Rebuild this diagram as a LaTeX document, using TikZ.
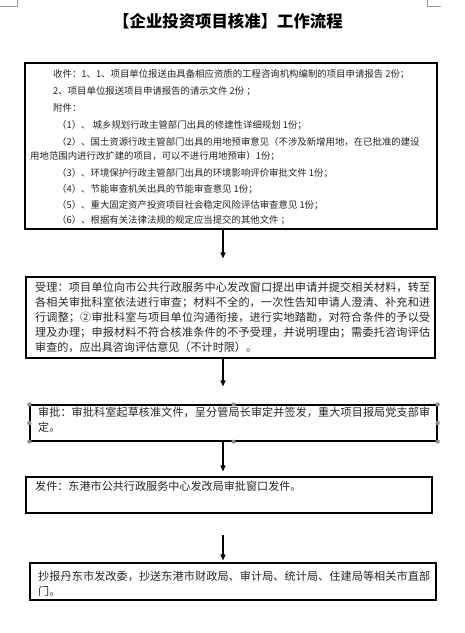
\documentclass[tikz,border=0pt]{standalone}
\usepackage{fontspec}
\setmainfont{Noto Sans CJK SC}
\usetikzlibrary{arrows.meta,calc}
\XeTeXlinebreaklocale "zh"
\XeTeXlinebreakskip=0pt plus 1pt
\begin{document}
\begin{tikzpicture}[x=1pt,y=-1pt,
  frame/.style={draw=black,line width=1.1pt,rectangle,inner sep=0pt},
  small/.style={inner sep=0pt,anchor=west,text=black!85,font=\fontsize{9.4pt}{12pt}\selectfont},
  para/.style={inner sep=0pt,anchor=north west,align=justify,text=black!85,font=\fontsize{11.1pt}{15pt}\selectfont},
  arr/.style={line width=1.2pt,-{Triangle[length=6pt,width=5pt]}},
  handle/.style={fill=black!45,rounded corners=0.8pt}]
\useasboundingbox (0,0) rectangle (465,633);
\fill[white] (0,0) rectangle (465,633);
% corner marks
\draw[black!40,line width=0.8pt] (0,6) -- (17,6) -- (17,0);
\draw[black!40,line width=0.8pt] (427,0) -- (427,6) -- (441,6);
% title
\node[inner sep=0pt,font=\fontsize{16.4pt}{18pt}\selectfont\bfseries] (title) at (228,21) {【企业投资项目核准】工作流程};
% boxes
\node[frame,minimum width=412pt,minimum height=166pt] (b1) at (231,146) {};
\node[frame,minimum width=409pt,minimum height=81pt] (b2) at (230.5,317.5) {};
\node[frame,minimum width=407pt,minimum height=36pt] (b3) at (233.5,423) {};
\node[frame,minimum width=406pt,minimum height=36pt] (b4) at (229,495) {};
\node[frame,minimum width=406pt,minimum height=37pt] (b5) at (233,581.5) {};
% box 1 text
\node[small] (t1) at (53,74) {收件：1、1、项目单位报送由具备相应资质的工程咨询机构编制的项目申请报告 2份；};
\node[small] (t2) at (53,91) {2、项目单位报送项目申请报告的请示文件 2份 ；};
\node[small] (t3) at (53,108) {附件：};
\node[small] (t4) at (57,125) {（1）、 城乡规划行政主管部门出具的修建性详细规划 1份；};
\node[small] (t5) at (57,142) {（2）、国土资源行政主管部门出具的用地预审意见（不涉及新增用地，在已批准的建设};
\node[small] (t6) at (30,156) {用地范围内进行改扩建的项目，可以不进行用地预审）1份；};
\node[small] (t7) at (57,173) {（3）、环境保护行政主管部门出具的环境影响评价审批文件 1份；};
\node[small] (t8) at (57,189) {（4）、节能审查机关出具的节能审查意见 1份；};
\node[small] (t9) at (57,205) {（5）、重大固定资产投资项目社会稳定风险评估审查意见 1份；};
\node[small] (t10) at (57,220) {（6）、根据有关法律法规的规定应当提交的其他文件 ；};
% box 2 text
\node[para,text width=395pt] (p2) at (35,282) {受理：项目单位向市公共行政服务中心发改窗口提出申请并提交相关材料，转至\linebreak 各相关审批科室依法进行审查；材料不全的，一次性告知申请人澄清、补充和进\linebreak 行调整；②审批科室与项目单位沟通衔接，进行实地踏勘，对符合条件的予以受\linebreak 理及办理；申报材料不符合核准条件的不予受理，并说明理由；需委托咨询评估\linebreak 审查的，应出具咨询评估意见（不计时限）。};
% box 3 text
\node[para,text width=392pt] (p3) at (38,407) {审批：审批科室起草核准文件，呈分管局长审定并签发，重大项目报局党支部审\linebreak 定。};
% box 4 text
\node[para,text width=395pt] (p4) at (35,481) {发件：东港市公共行政服务中心发改局审批窗口发件。};
% box 5 text
\node[para,text width=392pt] (p5) at (38,571) {抄报丹东市发改委，抄送东港市财政局、审计局、统计局、住建局等相关市直部\linebreak 门。};
% selection handles on box 3
\foreach \p in {north west,north,north east,east,south east,south,south west,west}
  \fill[handle] ($(b3.\p)+(-2,-1.8)$) rectangle ++(4,3.6);
% arrows
\coordinate (ax) at (223,0);
\draw[arr,shorten >=18pt] (b1.south -| ax) -- (b2.north -| ax);
\draw[arr,shorten >=18pt] (b2.south -| ax) -- (b3.north -| ax);
\draw[arr,shorten >=5pt] (b3.south -| ax) -- (b4.north -| ax);
\draw[arr,shorten <=21pt,shorten >=2pt] (b4.south -| ax) -- (b5.north -| ax);
\end{tikzpicture}
\end{document}
